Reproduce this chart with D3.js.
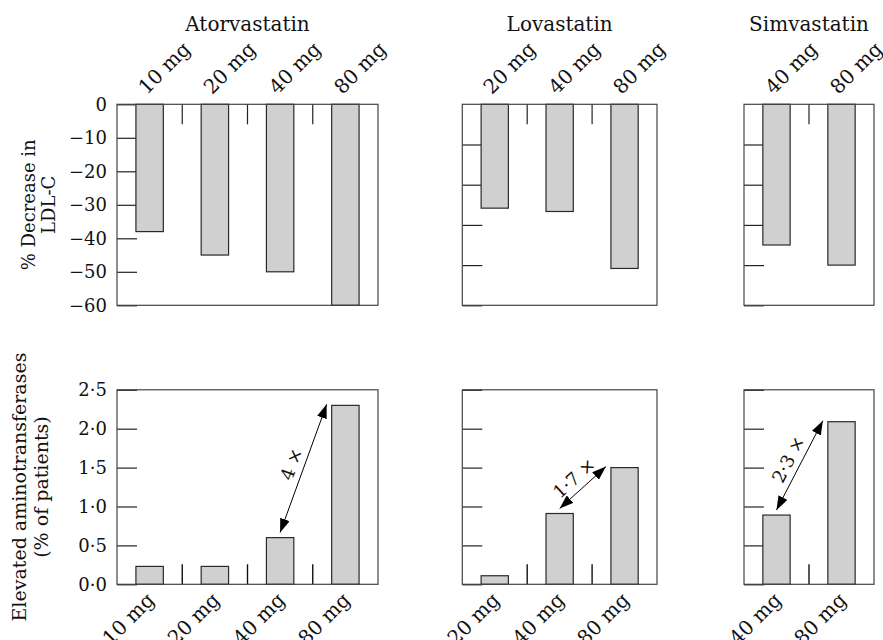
<!DOCTYPE html>
<html>
<head>
<meta charset="utf-8">
<script src="https://cdn.jsdelivr.net/npm/d3@7"></script>
<style>
  html, body { margin: 0; padding: 0; background: #fff; }
  svg { display: block; }
  text { font-family: "DejaVu Serif", "Liberation Serif", serif; fill: #111; }
</style>
</head>
<body>
<script>
// Statin dose comparison: LDL-C reduction (top row) and elevated aminotransferases (bottom row)
const drugs = ["Atorvastatin", "Lovastatin", "Simvastatin"];

const atorvastatinDoses = ["10 mg", "20 mg", "40 mg", "80 mg"];
const lovastatinDoses = ["20 mg", "40 mg", "80 mg"];
const simvastatinDoses = ["40 mg", "80 mg"];

// % decrease in LDL-C
const atorvastatinLdl = [-38, -45, -50, -60];
const lovastatinLdl = [-31, -32, -49];
const simvastatinLdl = [-42, -48];

// elevated aminotransferases, % of patients
const atorvastatinAlt = [0.23, 0.23, 0.6, 2.3];
const lovastatinAlt = [0.11, 0.91, 1.5];
const simvastatinAlt = [0.89, 2.09];

// fold increase from 40 mg to 80 mg
const foldLabels = ["4 ×", "1·7 ×", "2·3 ×"];

// axis ticks
const ldlTicksLabelled = [0, -10, -20, -30, -40, -50, -60];
const ldlTicksPlain = [-12, -24, -36, -48, -60];
const altTicks = [0, 0.5, 1.0, 1.5, 2.0, 2.5];

const dosesByDrug = [atorvastatinDoses, lovastatinDoses, simvastatinDoses];
const ldlByDrug = [atorvastatinLdl, lovastatinLdl, simvastatinLdl];
const altByDrug = [atorvastatinAlt, lovastatinAlt, simvastatinAlt];

const W = 883, H = 640;
const svg = d3.select("body").append("svg").attr("width", W).attr("height", H);

// layout
const panelX = [[117, 378], [462.3, 657], [744, 874]];
const topRow = [104.3, 305.3];
const botRow = [389.8, 584.3];
const barFrac = 0.42;
const tickLen = 20;

const yLdl = d3.scaleLinear().domain([-60, 0]).range([topRow[1], topRow[0]]);
const yAlt = d3.scaleLinear().domain([0, 2.5]).range([botRow[1], botRow[0]]);

const fmtLdl = d => d === 0 ? "0" : "\u2212" + Math.abs(d);
const fmtAlt = d => d3.format(".1f")(d).replace(".", "\u00b7");

// arrowhead marker
const defs = svg.append("defs");
defs.append("marker")
  .attr("id", "head")
  .attr("markerUnits", "userSpaceOnUse")
  .attr("viewBox", "0 0 14 10")
  .attr("refX", 14).attr("refY", 5)
  .attr("markerWidth", 14).attr("markerHeight", 10)
  .attr("orient", "auto-start-reverse")
  .append("path")
  .attr("d", "M0,0 L14,5 L0,10 Z")
  .attr("fill", "#000");

drugs.forEach((drug, i) => {
  const [x0, x1] = panelX[i];
  const doses = dosesByDrug[i];
  const x = d3.scaleBand().domain(doses).range([x0, x1]).padding(0);
  const bw = x.bandwidth();
  const barW = bw * barFrac;
  const barOff = (bw - barW) / 2;

  // column title
  svg.append("text")
    .attr("x", (x0 + x1) / 2).attr("y", 31)
    .attr("text-anchor", "middle")
    .style("font-size", "20px")
    .text(drug);

  // ---------- top row: LDL-C ----------
  const gt = svg.append("g");
  const ldlAxis = d3.axisLeft(yLdl)
    .tickValues(i === 0 ? ldlTicksLabelled : ldlTicksPlain)
    .tickSize(-tickLen).tickPadding(10)
    .tickFormat(i === 0 ? fmtLdl : () => "");
  const ga = gt.append("g").attr("transform", `translate(${x0},0)`).call(ldlAxis);
  ga.select(".domain").remove();
  ga.selectAll(".tick line").attr("stroke", "#222").attr("stroke-width", 1.2);
  ga.selectAll(".tick text").style("font-size", "18px").style("font-family", "DejaVu Serif").attr("fill", "#111");

  // dose dividers hanging from top edge
  gt.selectAll("line.div").data(doses.slice(1)).enter().append("line")
    .attr("x1", d => x(d)).attr("x2", d => x(d))
    .attr("y1", topRow[0]).attr("y2", topRow[0] + tickLen)
    .attr("stroke", "#222").attr("stroke-width", 1.2);

  gt.selectAll("rect.bar").data(doses).enter().append("rect")
    .attr("x", d => x(d) + barOff)
    .attr("y", yLdl(0))
    .attr("width", barW)
    .attr("height", (d, k) => yLdl(ldlByDrug[i][k]) - yLdl(0))
    .attr("fill", "#d0d0d0").attr("stroke", "#2a2a2a").attr("stroke-width", 1.2);

  gt.append("rect")
    .attr("x", x0).attr("y", topRow[0])
    .attr("width", x1 - x0).attr("height", topRow[1] - topRow[0])
    .attr("fill", "none").attr("stroke", "#444").attr("stroke-width", 1.2);

  // rotated dose labels above the panel
  gt.selectAll("text.dose").data(doses).enter().append("text")
    .attr("transform", d => `translate(${x(d) + bw / 2 - 3},${topRow[0] - 9}) rotate(-45)`)
    .attr("text-anchor", "start")
    .style("font-size", "20px")
    .text(d => d);

  // ---------- bottom row: aminotransferases ----------
  const gb = svg.append("g");
  const altAxis = d3.axisLeft(yAlt)
    .tickValues(altTicks)
    .tickSize(-tickLen).tickPadding(10)
    .tickFormat(i === 0 ? fmtAlt : () => "");
  const gba = gb.append("g").attr("transform", `translate(${x0},0)`).call(altAxis);
  gba.select(".domain").remove();
  gba.selectAll(".tick line").attr("stroke", "#222").attr("stroke-width", 1.2);
  gba.selectAll(".tick text").style("font-size", "18px").style("font-family", "DejaVu Serif").attr("fill", "#111");

  gb.selectAll("line.div").data(doses.slice(1)).enter().append("line")
    .attr("x1", d => x(d)).attr("x2", d => x(d))
    .attr("y1", botRow[1]).attr("y2", botRow[1] - tickLen)
    .attr("stroke", "#111").attr("stroke-width", 1.4);

  gb.selectAll("rect.bar").data(doses).enter().append("rect")
    .attr("x", d => x(d) + barOff)
    .attr("y", (d, k) => yAlt(altByDrug[i][k]))
    .attr("width", barW)
    .attr("height", (d, k) => yAlt(0) - yAlt(altByDrug[i][k]))
    .attr("fill", "#d0d0d0").attr("stroke", "#2a2a2a").attr("stroke-width", 1.2);

  gb.append("rect")
    .attr("x", x0).attr("y", botRow[0])
    .attr("width", x1 - x0).attr("height", botRow[1] - botRow[0])
    .attr("fill", "none").attr("stroke", "#444").attr("stroke-width", 1.2);

  gb.selectAll("text.dose").data(doses).enter().append("text")
    .attr("transform", d => `translate(${x(d) + bw / 2 + 6},${botRow[1] + 17}) rotate(-45)`)
    .attr("text-anchor", "end")
    .style("font-size", "20px")
    .text(d => d);

  // fold-change arrow from the 40 mg bar to the 80 mg bar
  const k40 = doses.indexOf("40 mg"), k80 = doses.indexOf("80 mg");
  const sx = x("40 mg") + bw / 2, sy = yAlt(altByDrug[i][k40]) - 5;
  const ex = x("80 mg") + barOff - 5, ey = yAlt(altByDrug[i][k80]) - 1;
  gb.append("line")
    .attr("x1", sx).attr("y1", sy).attr("x2", ex).attr("y2", ey)
    .attr("stroke", "#000").attr("stroke-width", 1)
    .attr("marker-start", "url(#head)").attr("marker-end", "url(#head)");
  const dx = ex - sx, dy = ey - sy, len = Math.hypot(dx, dy);
  const ang = Math.atan2(dy, dx) * 180 / Math.PI;
  const nx = dy / len, ny = -dx / len;
  const mx = (sx + ex) / 2 + nx * 13, my = (sy + ey) / 2 + ny * 13;
  gb.append("text")
    .attr("transform", `translate(${mx},${my}) rotate(${ang})`)
    .attr("text-anchor", "middle").attr("dominant-baseline", "central")
    .style("font-size", "18px")
    .text(foldLabels[i]);
});

// row titles
const topMid = (topRow[0] + topRow[1]) / 2;
const tt = svg.append("text")
  .attr("transform", `translate(0,${topMid}) rotate(-90)`)
  .attr("text-anchor", "middle")
  .style("font-size", "18px");
tt.append("tspan").attr("x", 0).attr("y", 35).text("% Decrease in");
tt.append("tspan").attr("x", 0).attr("y", 55).text("LDL-C");

const botMid = (botRow[0] + botRow[1]) / 2;
const bt = svg.append("text")
  .attr("transform", `translate(0,${botMid}) rotate(-90)`)
  .attr("text-anchor", "middle")
  .style("font-size", "19px");
bt.append("tspan").attr("x", 0).attr("y", 26).text("Elevated aminotransferases");
bt.append("tspan").attr("x", 0).attr("y", 48).text("(% of patients)");
</script>
</body>
</html>
